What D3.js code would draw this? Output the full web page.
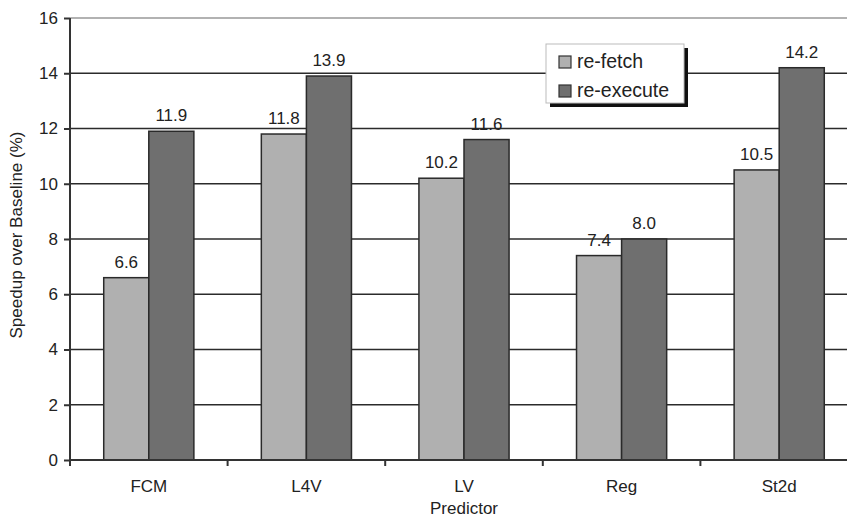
<!DOCTYPE html>
<meta charset="utf-8">
<script src="https://d3js.org/d3.v7.min.js"></script>
<style>
body { margin: 0; background: #fff; }
text { font-family: "Liberation Sans", Arial, sans-serif; fill: #222; }
.grid line { stroke: #2b2b2b; stroke-width: 1.5; }
.axis path, .axis line { stroke: #333; stroke-width: 2; }
</style>
<body>
<script>
// chart data
var predictors = ["FCM", "L4V", "LV", "Reg", "St2d"];
var series = ["re-fetch", "re-execute"];
var refetch = [6.6, 11.8, 10.2, 7.4, 10.5];
var reexecute = [11.9, 13.9, 11.6, 8.0, 14.2];
var yTicks = [0, 2, 4, 6, 8, 10, 12, 14, 16];
var colors = {"re-fetch": "#b0b0b0", "re-execute": "#6f6f6f"};

var width = 847, height = 525;
var m = {left: 70, right: 858, top: 18, bottom: 460};
var fs = "17px";

var svg = d3.select("body").append("svg")
    .attr("width", width)
    .attr("height", height);

var x = d3.scaleBand().domain(predictors).range([m.left, m.right]).padding(0);
var groupW = x.bandwidth() * 0.572;
var x1 = d3.scaleBand().domain(series).range([0, groupW]);
var y = d3.scaleLinear().domain([0, 16]).range([m.bottom, m.top]);

// gridlines
svg.append("g").attr("class", "grid")
  .selectAll("line").data(yTicks.slice(1)).enter().append("line")
    .attr("x1", m.left).attr("x2", m.right)
    .attr("y1", function(d) { return y(d); })
    .attr("y2", function(d) { return y(d); })
    .style("stroke", function(d) { return d == 16 ? "#999" : null; });

var rows = predictors.map(function(p, i) {
  return {name: p, vals: [{s: "re-fetch", v: refetch[i]}, {s: "re-execute", v: reexecute[i]}]};
});

var g = svg.selectAll("g.cat").data(rows).enter().append("g")
    .attr("class", "cat")
    .attr("transform", function(d) {
      return "translate(" + (x(d.name) + x.bandwidth() / 2 - groupW / 2) + ",0)";
    });

g.selectAll("rect").data(function(d) { return d.vals; }).enter().append("rect")
    .attr("x", function(d) { return x1(d.s); })
    .attr("width", x1.bandwidth())
    .attr("y", function(d) { return y(d.v); })
    .attr("height", function(d) { return y(0) - y(d.v); })
    .attr("fill", function(d) { return colors[d.s]; })
    .attr("stroke", "#2a2a2a")
    .attr("stroke-width", 1.5);

g.selectAll("text").data(function(d) { return d.vals; }).enter().append("text")
    .attr("x", function(d) { return x1(d.s) + x1.bandwidth() / 2; })
    .attr("y", function(d) { return y(d.v) - 10; })
    .attr("text-anchor", "middle")
    .style("font-size", fs)
    .text(function(d) { return d.v.toFixed(1); });

// y axis
var yAxis = svg.append("g").attr("class", "axis")
    .attr("transform", "translate(" + m.left + ",0)")
    .call(d3.axisLeft(y).tickValues(yTicks).tickSize(6).tickPadding(6));
yAxis.select(".domain").attr("d", "M0," + m.top + "V" + m.bottom);
yAxis.selectAll("text").style("font-size", fs).attr("fill", "#222");

// x axis
var xAxis = svg.append("g").attr("class", "axis")
    .attr("transform", "translate(0," + m.bottom + ")")
    .call(d3.axisBottom(x).tickSize(0).tickPadding(20));
xAxis.select(".domain").attr("d", "M" + m.left + ",0H" + m.right);
xAxis.selectAll("text").style("font-size", fs).attr("fill", "#222");
xAxis.selectAll("line.sep").data(predictors).enter().append("line")
    .attr("class", "sep")
    .attr("x1", function(d) { return x(d); })
    .attr("x2", function(d) { return x(d); })
    .attr("y1", 0).attr("y2", 6);

svg.append("text")
    .attr("x", (m.left + m.right) / 2)
    .attr("y", 514)
    .attr("text-anchor", "middle")
    .style("font-size", fs)
    .text("Predictor");

svg.append("text")
    .attr("transform", "translate(22,235) rotate(-90)")
    .attr("text-anchor", "middle")
    .style("font-size", fs)
    .text("Speedup over Baseline (%)");

// legend
var lg = svg.append("g").attr("transform", "translate(546,44)");
lg.append("rect").attr("x", 4).attr("y", 4).attr("width", 138).attr("height", 59).attr("fill", "#111");
lg.append("rect").attr("width", 138).attr("height", 59)
    .attr("fill", "#fff").attr("stroke", "#bbb").attr("stroke-width", 1);
series.forEach(function(s, i) {
  lg.append("rect")
    .attr("x", 13).attr("y", 12 + i * 29)
    .attr("width", 12).attr("height", 12)
    .attr("fill", colors[s]).attr("stroke", "#333").attr("stroke-width", 1.2);
  lg.append("text")
    .attr("x", 31).attr("y", 24 + i * 29)
    .style("font-size", "19.5px")
    .text(s);
});
</script>
</body>
